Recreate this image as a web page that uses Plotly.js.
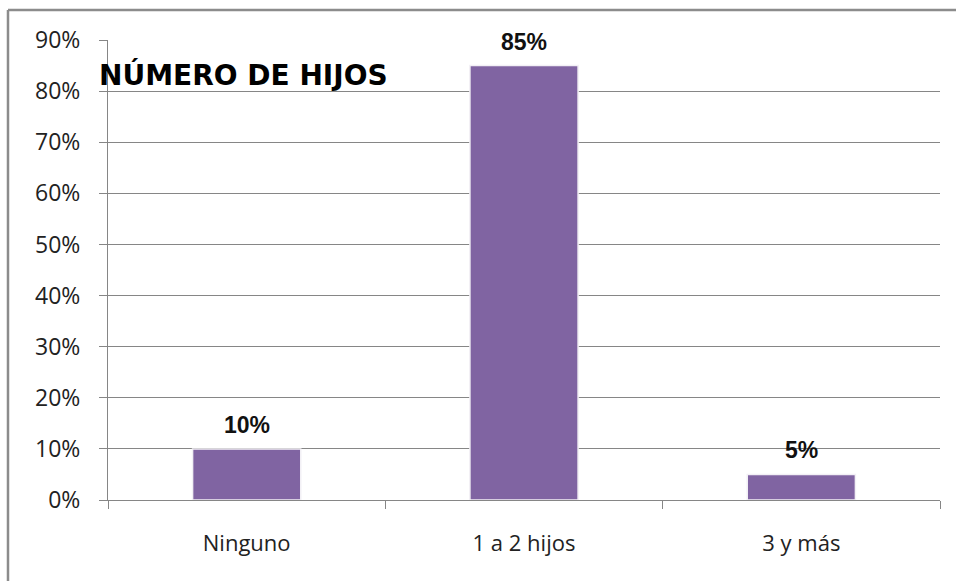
<!DOCTYPE html>
<html>
<head>
<meta charset="utf-8">
<script src="https://cdn.plot.ly/plotly-3.0.1.min.js"></script>
<style>html,body{margin:0;padding:0;background:#fff;}#chart{width:956px;height:581px;}</style>
</head>
<body>
<div id="chart"></div>
<script>
const categories = ["Ninguno", "1 a 2 hijos", "3 y más"];
const values = [10, 85, 5];
const tickVals = [0, 10, 20, 30, 40, 50, 60, 70, 80, 90];
const tickText = ["0%", "10%", "20%", "30%", "40%", "50%", "60%", "70%", "80%", "90%"];
const chartTitle = "NÚMERO DE HIJOS";

const trace = {
  type: "bar",
  x: categories,
  y: values,
  width: 0.39,
  marker: { color: "#8064A2", line: { color: "#f2f0f5", width: 1.5 } },
  hoverinfo: "skip"
};

const annotations = categories.map((c, i) => ({
  x: c, y: values[i], xref: "x", yref: "y",
  text: "<b>" + values[i] + "%</b>", showarrow: false,
  yanchor: "bottom", yshift: 9,
  font: { family: "Liberation Sans, Arial, sans-serif", size: 23, color: "#111" }
}));

annotations.push({
  xref: "paper", yref: "paper",
  x: (97 - 108) / 832, xanchor: "left",
  y: (500 - 75) / 460, yanchor: "middle",
  text: "<b>" + chartTitle + "</b>", showarrow: false,
  font: { family: "DejaVu Sans, sans-serif", size: 28, color: "#000" }
});

const layout = {
  width: 956, height: 581,
  margin: { l: 108, r: 16, t: 40, b: 81 },
  paper_bgcolor: "#fff", plot_bgcolor: "#fff",
  showlegend: false,
  xaxis: {
    type: "category",
    showgrid: false, zeroline: false,
    showline: true, linecolor: "#868686", linewidth: 1,
    ticks: "outside", tickson: "boundaries", ticklen: 8, tickcolor: "#868686",
    ticklabelstandoff: 24,
    tickfont: { family: "Open Sans, sans-serif", size: 22, color: "#222" }
  },
  yaxis: {
    range: [0, 90],
    tickvals: tickVals, ticktext: tickText,
    showgrid: true, gridcolor: "#868686", gridwidth: 1,
    zeroline: false,
    showline: true, linecolor: "#868686", linewidth: 1,
    ticks: "outside", ticklen: 8, tickcolor: "#868686",
    ticklabelstandoff: 14,
    tickfont: { family: "Open Sans, sans-serif", size: 23, color: "#222" }
  },
  annotations: annotations,
  shapes: [
    { type: "line", xref: "paper", yref: "paper", x0: -0.1202, x1: -0.1202, y0: 1.0652, y1: -0.3, line: { color: "#8c8c8c", width: 2.5 }, layer: "below" },
    { type: "line", xref: "paper", yref: "paper", x0: -0.1202, x1: 1.1, y0: 1.0652, y1: 1.0652, line: { color: "#8c8c8c", width: 2.5 }, layer: "below" }
  ]
};

Plotly.newPlot("chart", [trace], layout, { displayModeBar: false, staticPlot: true });
</script>
</body>
</html>
